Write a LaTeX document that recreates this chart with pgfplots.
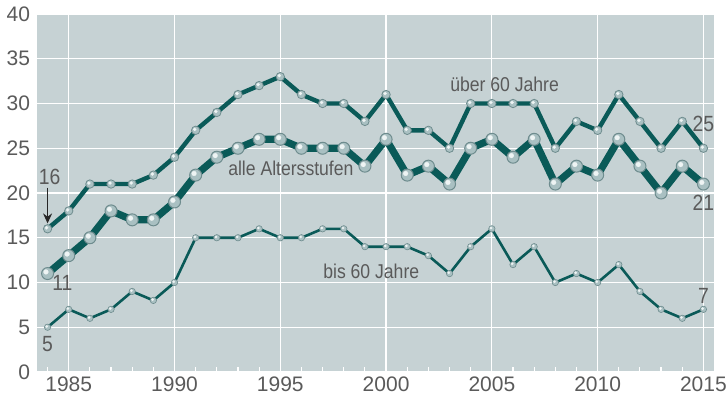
\documentclass[border=0pt]{standalone}
\usepackage{pgfplots}
\usepackage{pgfplotstable}
\pgfplotsset{compat=1.18}
\usetikzlibrary{arrows.meta}
\usepackage{fontspec}
\setmainfont{Liberation Sans}
\newfontfamily\narrowfont{Liberation Sans}[FakeStretch=0.88]
\definecolor{bgc}{HTML}{C6D2D4}
\definecolor{linec}{HTML}{0A5A58}
\definecolor{txtc}{HTML}{5A5A5A}
\definecolor{bB}{HTML}{A9C0C2}
\definecolor{bC}{HTML}{6E8C8E}
\definecolor{hl}{HTML}{EEF4F4}
\pgfplotstableread{
year ueber alle bis
1984 16 11 5
1985 18 13 7
1986 21 15 6
1987 21 18 7
1988 21 17 9
1989 22 17 8
1990 24 19 10
1991 27 22 15
1992 29 24 15
1993 31 25 15
1994 32 26 16
1995 33 26 15
1996 31 25 15
1997 30 25 16
1998 30 25 16
1999 28 23 14
2000 31 26 14
2001 27 22 14
2002 27 23 13
2003 25 21 11
2004 30 25 14
2005 30 26 16
2006 30 24 12
2007 30 26 14
2008 25 21 10
2009 28 23 11
2010 27 22 10
2011 31 26 12
2012 28 23 9
2013 25 20 7
2014 28 23 6
2015 25 21 7
}\datatable
\begin{document}
\begin{tikzpicture}
\begin{axis}[
  scale only axis,
  width=338.5pt, height=179pt,
  xmin=1983.5, xmax=2015.5,
  ymin=0, ymax=40,
  axis background/.style={fill=bgc},
  axis line style={draw=none},
  xtick={1985,1990,...,2015},
  minor xtick={1984,...,2015},
  ytick={0,5,...,40},
  xmajorgrids, ymajorgrids,
  major grid style={white, line width=0.6pt},
  tick align=inside,
  xtick pos=bottom,
  xtick style={white, line width=0.6pt},
  minor tick length=2.6pt,
  major tick length=2.6pt,
  ytick style={draw=none},
  tick label style={font=\fontsize{10.5}{12}\selectfont, text=txtc},
  /pgf/number format/assume math mode=true,
  /pgf/number format/1000 sep={},
  xticklabel style={yshift=1pt},
  clip=false,
]
\coordinate (sw) at (rel axis cs:0,0);
\coordinate (ne) at (rel axis cs:1,1);
% über 60 Jahre
\addplot[linec, line width=2.2pt, mark=*, mark size=2.1pt, mark options={fill=bB, draw=bC, line width=0.4pt}] table[x=year,y=ueber] {\datatable};
\addplot[only marks, mark=*, mark size=0.8pt, mark options={fill=hl, draw=hl, line width=0.1pt, xshift=-0.5pt, yshift=0.5pt}] table[x=year,y=ueber] {\datatable};
% alle Altersstufen
\addplot[linec, line width=3.6pt, mark=*, mark size=3pt, mark options={fill=bB, draw=bC, line width=0.5pt}] table[x=year,y=alle] {\datatable};
\addplot[only marks, mark=*, mark size=1.2pt, mark options={fill=hl, draw=hl, line width=0.1pt, xshift=-0.8pt, yshift=0.8pt}] table[x=year,y=alle] {\datatable};
% bis 60 Jahre
\addplot[linec, line width=1.3pt, mark=*, mark size=1.6pt, mark options={fill=bB, draw=bC, line width=0.3pt}] table[x=year,y=bis] {\datatable};
\addplot[only marks, mark=*, mark size=0.6pt, mark options={fill=hl, draw=hl, line width=0.1pt, xshift=-0.4pt, yshift=0.4pt}] table[x=year,y=bis] {\datatable};
\begin{scope}[every node/.style={font=\narrowfont\fontsize{10}{11}\selectfont, text=txtc, inner sep=0pt}]
\node at (axis cs:2005.6,32.1) {über 60 Jahre};
\node at (axis cs:1995.5,22.8) {alle Altersstufen};
\node at (axis cs:1999.3,11.2) {bis 60 Jahre};
\end{scope}
\begin{scope}[every node/.style={font=\narrowfont\fontsize{11}{12}\selectfont, text=txtc, inner sep=0pt}]
\node at (axis cs:1984.1,21.8) {16};
\node at (axis cs:1984.7,9.9) {11};
\node at (axis cs:1984.0,3.1) {5};
\node at (axis cs:2015.0,27.7) {25};
\node at (axis cs:2015.0,18.9) {21};
\node at (axis cs:2015.0,8.5) {7};
\end{scope}
\draw[-{Stealth[length=5pt,width=4.5pt]}, black!85, line width=0.6pt] (axis cs:1984,20.6) -- (axis cs:1984,16.6);
\end{axis}
\pgfresetboundingbox
\path ([shift={(-18.5pt,-14.5pt)}]sw) rectangle ([shift={(6pt,7pt)}]ne);
\end{tikzpicture}
\end{document}
